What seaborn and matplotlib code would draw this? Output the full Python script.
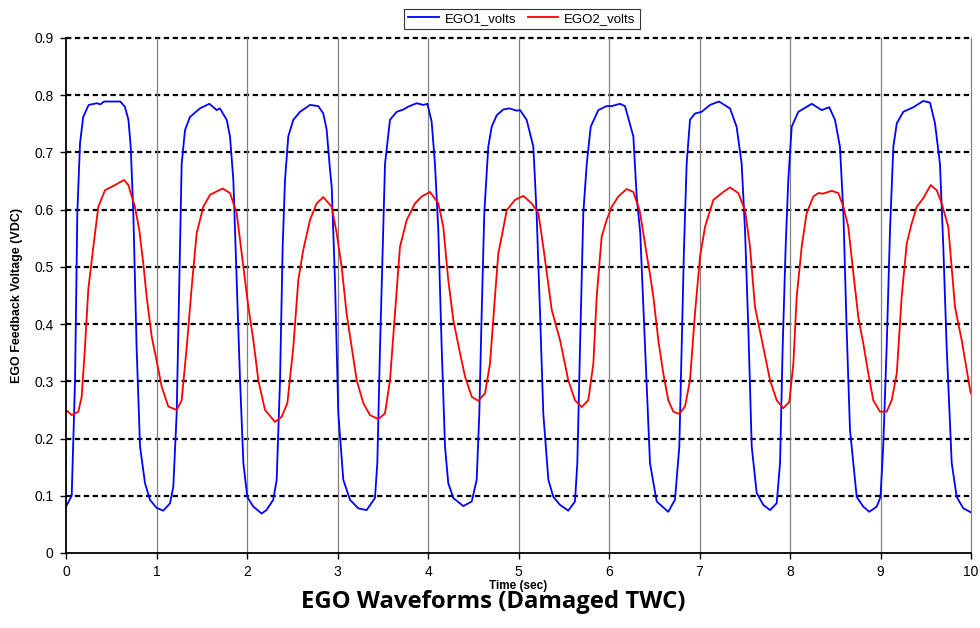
import matplotlib
matplotlib.use("Agg")
import matplotlib.pyplot as plt
import seaborn as sns
import pandas as pd
from matplotlib.lines import Line2D

series_names = ["EGO1_volts", "EGO2_volts"]

ego1_t = [0.0, 0.063, 0.1, 0.125, 0.155, 0.19, 0.25, 0.34, 0.38, 0.42, 0.49, 0.6, 0.65, 0.69, 0.715,
          0.744, 0.78, 0.818, 0.873, 0.928, 1.0, 1.075, 1.15, 1.186, 1.223, 1.252, 1.278, 1.315, 1.37,
          1.48, 1.584, 1.665, 1.70, 1.776, 1.812, 1.849, 1.886, 1.923, 1.96, 2.003, 2.07, 2.162, 2.215,
          2.29, 2.328, 2.365, 2.394, 2.42, 2.456, 2.512, 2.586, 2.696, 2.788, 2.843, 2.88, 2.917, 2.936,
          2.972, 3.009, 3.064, 3.138, 3.23, 3.322, 3.414, 3.44, 3.47, 3.5, 3.525, 3.58, 3.654, 3.727,
          3.782, 3.875, 3.948, 3.993, 4.04, 4.077, 4.114, 4.151, 4.188, 4.224, 4.28, 4.39, 4.483, 4.538,
          4.567, 4.593, 4.622, 4.666, 4.704, 4.759, 4.832, 4.898, 4.98, 5.017, 5.09, 5.164, 5.2, 5.238,
          5.274, 5.33, 5.385, 5.459, 5.55, 5.624, 5.65, 5.68, 5.716, 5.754, 5.798, 5.882, 5.974, 6.03,
          6.12, 6.177, 6.269, 6.306, 6.345, 6.398, 6.453, 6.527, 6.655, 6.729, 6.777, 6.803, 6.829,
          6.858, 6.895, 6.95, 7.024, 7.116, 7.215, 7.337, 7.41, 7.466, 7.503, 7.54, 7.577, 7.632, 7.705,
          7.779, 7.853, 7.89, 7.919, 7.952, 7.981, 8.019, 8.092, 8.24, 8.35, 8.434, 8.497, 8.552, 8.59,
          8.626, 8.663, 8.737, 8.81, 8.876, 8.958, 9.0, 9.03, 9.068, 9.105, 9.142, 9.18, 9.252, 9.363,
          9.473, 9.547, 9.602, 9.657, 9.694, 9.731, 9.787, 9.842, 9.915, 10.0]
ego1_v = [0.081, 0.1, 0.302, 0.594, 0.716, 0.762, 0.783, 0.786, 0.784, 0.789, 0.789, 0.789, 0.78, 0.757,
          0.71, 0.594, 0.36, 0.186, 0.122, 0.093, 0.079, 0.074, 0.087, 0.116, 0.244, 0.477, 0.68, 0.739,
          0.762, 0.777, 0.785, 0.774, 0.777, 0.757, 0.728, 0.652, 0.477, 0.302, 0.157, 0.098, 0.081,
          0.069, 0.075, 0.093, 0.128, 0.302, 0.535, 0.652, 0.728, 0.757, 0.771, 0.783, 0.781, 0.768,
          0.74, 0.67, 0.64, 0.477, 0.244, 0.128, 0.093, 0.078, 0.075, 0.096, 0.157, 0.36, 0.535, 0.68,
          0.757, 0.771, 0.775, 0.78, 0.786, 0.783, 0.785, 0.754, 0.68, 0.564, 0.36, 0.186, 0.122, 0.096,
          0.082, 0.09, 0.128, 0.244, 0.419, 0.594, 0.71, 0.745, 0.765, 0.775, 0.777, 0.773, 0.774, 0.757,
          0.71, 0.594, 0.419, 0.244, 0.128, 0.098, 0.084, 0.074, 0.09, 0.157, 0.36, 0.594, 0.68, 0.745,
          0.774, 0.781, 0.781, 0.785, 0.781, 0.728, 0.623, 0.56, 0.36, 0.157, 0.09, 0.072, 0.093, 0.186,
          0.36, 0.535, 0.68, 0.757, 0.768, 0.771, 0.783, 0.789, 0.777, 0.745, 0.68, 0.564, 0.39, 0.186,
          0.105, 0.084, 0.075, 0.087, 0.157, 0.36, 0.535, 0.652, 0.745, 0.771, 0.785, 0.774, 0.779, 0.757,
          0.71, 0.594, 0.39, 0.215, 0.098, 0.081, 0.072, 0.081, 0.098, 0.186, 0.36, 0.564, 0.71, 0.751,
          0.771, 0.779, 0.79, 0.787, 0.751, 0.68, 0.535, 0.36, 0.157, 0.098, 0.078, 0.071]

ego2_t = [0.0, 0.063, 0.136, 0.173, 0.21, 0.246, 0.302, 0.357, 0.431, 0.541, 0.641, 0.689, 0.762, 0.81,
          0.854, 0.891, 0.947, 1.0, 1.057, 1.13, 1.223, 1.278, 1.334, 1.389, 1.444, 1.517, 1.591, 1.731,
          1.812, 1.886, 1.96, 2.015, 2.07, 2.125, 2.199, 2.309, 2.383, 2.446, 2.512, 2.567, 2.622, 2.696,
          2.77, 2.843, 2.936, 2.991, 3.046, 3.1, 3.157, 3.212, 3.285, 3.359, 3.451, 3.525, 3.58, 3.635,
          3.69, 3.765, 3.856, 3.93, 4.022, 4.114, 4.169, 4.224, 4.28, 4.354, 4.41, 4.483, 4.556, 4.63,
          4.685, 4.74, 4.777, 4.814, 4.87, 4.961, 5.053, 5.146, 5.219, 5.274, 5.367, 5.459, 5.55, 5.624,
          5.698, 5.771, 5.827, 5.864, 5.919, 5.974, 6.03, 6.103, 6.195, 6.269, 6.324, 6.343, 6.398, 6.45,
          6.49, 6.545, 6.6, 6.655, 6.711, 6.777, 6.84, 6.895, 6.95, 7.006, 7.061, 7.153, 7.263, 7.337,
          7.429, 7.503, 7.558, 7.613, 7.705, 7.779, 7.853, 7.926, 7.992, 8.037, 8.074, 8.129, 8.184,
          8.258, 8.313, 8.368, 8.46, 8.534, 8.59, 8.644, 8.7, 8.755, 8.81, 8.865, 8.92, 8.994, 9.068,
          9.124, 9.18, 9.234, 9.29, 9.345, 9.4, 9.473, 9.554, 9.621, 9.676, 9.749, 9.823, 9.897, 9.997]
ego2_v = [0.25, 0.241, 0.247, 0.273, 0.36, 0.46, 0.535, 0.605, 0.634, 0.643, 0.652, 0.643, 0.605, 0.564,
          0.506, 0.448, 0.378, 0.337, 0.291, 0.256, 0.25, 0.267, 0.36, 0.465, 0.559, 0.605, 0.626, 0.637,
          0.629, 0.594, 0.5, 0.43, 0.372, 0.302, 0.25, 0.229, 0.238, 0.262, 0.36, 0.477, 0.53, 0.582,
          0.611, 0.622, 0.605, 0.559, 0.5, 0.419, 0.36, 0.302, 0.262, 0.241, 0.234, 0.244, 0.302, 0.419,
          0.535, 0.582, 0.611, 0.623, 0.631, 0.611, 0.57, 0.477, 0.407, 0.349, 0.308, 0.273, 0.266, 0.279,
          0.331, 0.448, 0.524, 0.553, 0.599, 0.617, 0.624, 0.611, 0.594, 0.535, 0.425, 0.372, 0.302, 0.267,
          0.255, 0.267, 0.331, 0.448, 0.553, 0.582, 0.605, 0.623, 0.636, 0.631, 0.605, 0.595, 0.54, 0.49,
          0.448, 0.372, 0.314, 0.267, 0.247, 0.243, 0.256, 0.302, 0.419, 0.518, 0.57, 0.617, 0.631, 0.639,
          0.629, 0.599, 0.535, 0.43, 0.36, 0.302, 0.267, 0.253, 0.264, 0.331, 0.448, 0.535, 0.594,
          0.623, 0.629, 0.628, 0.633, 0.629, 0.605, 0.57, 0.489, 0.412, 0.366, 0.314, 0.267, 0.247, 0.247,
          0.267, 0.314, 0.448, 0.541, 0.576, 0.605, 0.62, 0.643, 0.634, 0.611, 0.57, 0.43, 0.372, 0.279]

x_ticks = list(range(0, 11))
y_ticks = [0, 0.1, 0.2, 0.3, 0.4, 0.5, 0.6, 0.7, 0.8, 0.9]
y_tick_labels = ["0", "0.1", "0.2", "0.3", "0.4", "0.5", "0.6", "0.7", "0.8", "0.9"]
colors = {"EGO1_volts": "#0000FF", "EGO2_volts": "#FF0000"}

df = pd.concat([
    pd.DataFrame({"t": ego1_t, "v": ego1_v, "series": series_names[0]}),
    pd.DataFrame({"t": ego2_t, "v": ego2_v, "series": series_names[1]}),
], ignore_index=True)

plt.rcParams["font.family"] = ["Liberation Sans", "DejaVu Sans"]

fig = plt.figure(figsize=(9.8, 6.28), dpi=100)
ax = fig.add_axes([66 / 980, 1 - 553 / 628, (971 - 66) / 980, (553 - 38) / 628])

# grids
for y in y_ticks[1:]:
    ax.axhline(y, color="black", lw=1.6, ls=(0, (2.4, 1.6)), zorder=1, clip_on=False)
for x in x_ticks[1:]:
    ax.axvline(x, color="#808080", lw=0.9, zorder=1, clip_on=False)

sns.lineplot(data=df, x="t", y="v", hue="series", palette=colors, estimator=None,
             sort=False, lw=1.3, ax=ax, legend=False, zorder=3)

ax.set_xlim(0, 10)
ax.set_ylim(0, 0.9)
ax.set_xticks(x_ticks)
ax.set_xticklabels([str(x) for x in x_ticks])
ax.set_yticks(y_ticks)
ax.set_yticklabels(y_tick_labels)
ax.tick_params(axis="both", direction="out", length=4, width=1, labelsize=10, pad=5)

for s in ["top", "right"]:
    ax.spines[s].set_visible(False)
for s in ["left", "bottom"]:
    ax.spines[s].set_linewidth(1.3)
    ax.spines[s].set_zorder(4)

ax.set_xlabel("Time (sec)", fontsize=8.5, fontweight="bold", labelpad=0)
ax.set_ylabel("EGO Feedback Voltage (VDC)", fontsize=9, fontweight="bold", labelpad=8)

handles = [Line2D([0], [0], color=colors[n], lw=1.3) for n in series_names]
leg = fig.legend(handles, series_names, loc="center", bbox_to_anchor=(522 / 980, 1 - 19 / 628),
                 ncol=2, frameon=True, fontsize=9.5, fancybox=False, edgecolor="black",
                 handlelength=2.3, columnspacing=0.9, handletextpad=0.45, borderpad=0.3,
                 borderaxespad=0)
leg.get_frame().set_linewidth(0.8)

fig.text(493 / 980, 1 - 608 / 628, "EGO Waveforms (Damaged TWC)", ha="center", va="baseline",
         fontsize=17.2, fontweight="bold", family=["Open Sans", "DejaVu Sans"])

fig.savefig("out.png", dpi=100)
